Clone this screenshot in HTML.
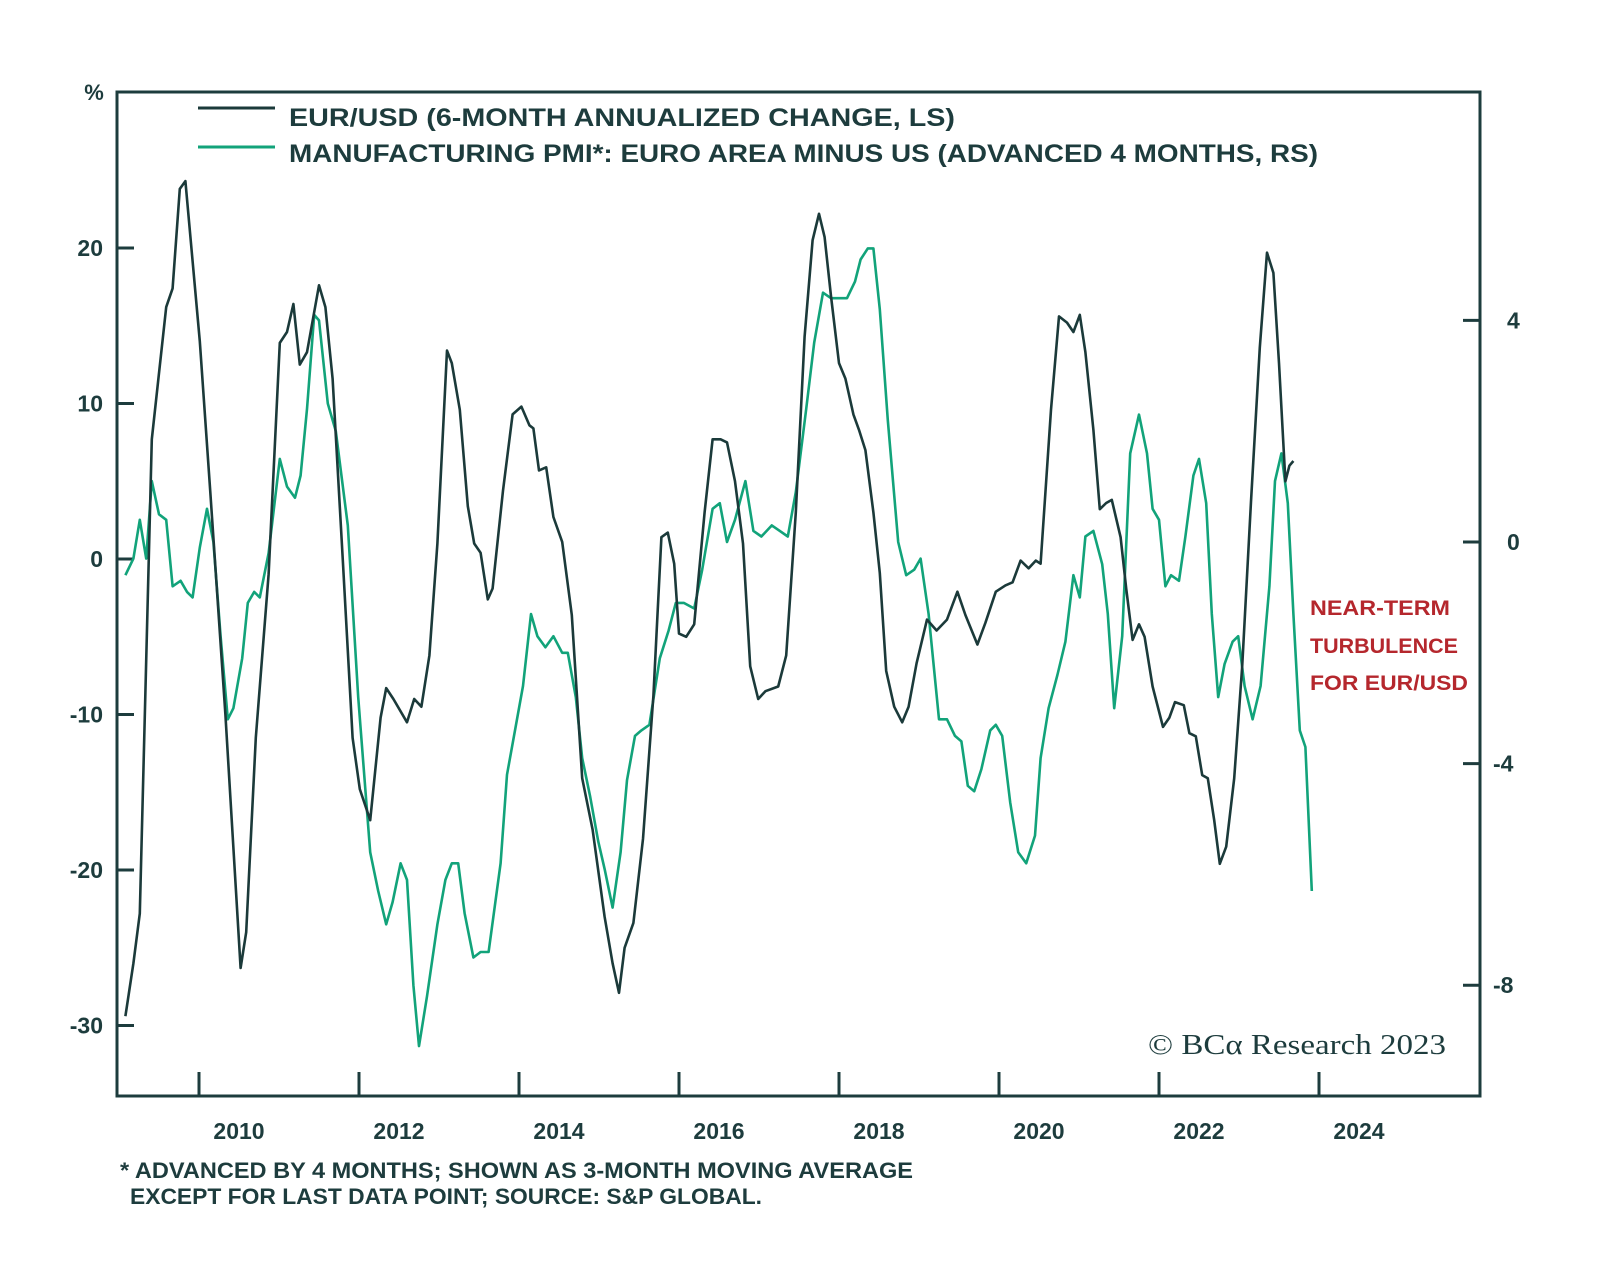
<!DOCTYPE html>
<html><head><meta charset="utf-8"><style>
html,body{margin:0;padding:0;background:#fff;}
svg{display:block;font-family:"Liberation Sans",sans-serif;}
</style></head><body>
<svg id="chart" width="1600" height="1279" viewBox="0 0 1600 1279" xmlns="http://www.w3.org/2000/svg">
<rect width="1600" height="1279" fill="#fff"/>
<g id="ticks"></g>
<g id="lines"></g>
<rect x="117" y="92" width="1363" height="1004" fill="none" stroke="#1d3c3d" stroke-width="3"/>
<text x="94" y="100" font-size="22" font-weight="bold" fill="#1d3c3d" text-anchor="middle">%</text>
<line x1="198" y1="108" x2="275" y2="108" stroke="#1b3a3a" stroke-width="3"/>
<line x1="198" y1="147" x2="275" y2="147" stroke="#12a37a" stroke-width="3"/>
<text x="289" y="126" font-size="25" font-weight="bold" fill="#1d3c3d" textLength="666" lengthAdjust="spacingAndGlyphs">EUR/USD (6-MONTH ANNUALIZED CHANGE, LS)</text>
<text x="289" y="162" font-size="25" font-weight="bold" fill="#1d3c3d" textLength="1029" lengthAdjust="spacingAndGlyphs">MANUFACTURING PMI*: EURO AREA MINUS US (ADVANCED 4 MONTHS, RS)</text>
<text font-size="21" font-weight="bold" fill="#b5272d">
<tspan x="1310" y="615" textLength="140" lengthAdjust="spacingAndGlyphs">NEAR-TERM</tspan>
<tspan x="1310" y="653" textLength="148" lengthAdjust="spacingAndGlyphs">TURBULENCE</tspan>
<tspan x="1310" y="690" textLength="158" lengthAdjust="spacingAndGlyphs">FOR EUR/USD</tspan></text>
<text x="1148" y="1054" font-family="Liberation Serif, serif" font-size="29" fill="#1d3c3d" textLength="298" lengthAdjust="spacingAndGlyphs">© BCα Research 2023</text>
<text font-size="22" fill="#1d3c3d" font-weight="bold">
<tspan x="120" y="1178" textLength="793" lengthAdjust="spacingAndGlyphs">* ADVANCED BY 4 MONTHS; SHOWN AS 3-MONTH MOVING AVERAGE</tspan>
<tspan x="130" y="1204" textLength="632" lengthAdjust="spacingAndGlyphs">EXCEPT FOR LAST DATA POINT; SOURCE: S&amp;P GLOBAL.</tspan></text>
</svg>
<script>
const xTicks=[2010,2012,2014,2016,2018,2020,2022,2024];
const leftTicks=[20,10,0,-10,-20,-30];
const rightTicks=[4,0,-4,-8];
const eurYears=[2009.08,2009.18,2009.26,2009.41,2009.59,2009.67,2009.76,2009.83,2010.01,2010.14,2010.33,2010.52,2010.59,2010.71,2010.87,2011.01,2011.10,2011.18,2011.26,2011.35,2011.50,2011.58,2011.67,2011.80,2011.92,2012.01,2012.14,2012.27,2012.34,2012.43,2012.60,2012.69,2012.78,2012.88,2012.98,2013.10,2013.16,2013.26,2013.36,2013.44,2013.52,2013.61,2013.67,2013.80,2013.92,2014.03,2014.13,2014.18,2014.25,2014.34,2014.43,2014.54,2014.66,2014.79,2014.92,2015.07,2015.17,2015.25,2015.32,2015.43,2015.55,2015.68,2015.78,2015.86,2015.94,2016.00,2016.09,2016.19,2016.32,2016.42,2016.52,2016.60,2016.70,2016.80,2016.89,2016.99,2017.08,2017.24,2017.34,2017.46,2017.57,2017.67,2017.75,2017.82,2017.90,2018.00,2018.08,2018.18,2018.25,2018.33,2018.43,2018.51,2018.59,2018.69,2018.79,2018.87,2018.97,2019.10,2019.22,2019.35,2019.48,2019.58,2019.73,2019.83,2019.96,2020.08,2020.17,2020.27,2020.37,2020.46,2020.52,2020.65,2020.75,2020.85,2020.93,2021.01,2021.08,2021.18,2021.26,2021.34,2021.41,2021.52,2021.59,2021.67,2021.75,2021.82,2021.92,2022.05,2022.13,2022.20,2022.31,2022.38,2022.46,2022.54,2022.61,2022.69,2022.76,2022.84,2022.94,2023.04,2023.15,2023.26,2023.35,2023.43,2023.50,2023.58,2023.63,2023.68];
const eurValues=[-29.4,-26,-22.8,7.7,16.2,17.4,23.8,24.3,14,4.4,-10,-26.3,-24,-11.5,-1,13.9,14.6,16.4,12.5,13.3,17.6,16.2,11.6,-0.3,-11.5,-14.8,-16.8,-10.2,-8.3,-9,-10.5,-9,-9.5,-6.2,1,13.4,12.6,9.6,3.4,1,0.4,-2.6,-1.9,4.4,9.3,9.8,8.6,8.4,5.7,5.9,2.7,1.1,-3.6,-14.1,-17.4,-23,-26,-27.9,-25,-23.4,-18,-8.8,1.4,1.7,-0.3,-4.8,-5,-4.2,3,7.7,7.7,7.5,5,1,-6.9,-9,-8.5,-8.2,-6.2,3,14.3,20.5,22.2,20.7,16.9,12.6,11.6,9.3,8.3,7,3,-0.9,-7.2,-9.5,-10.5,-9.5,-6.7,-3.9,-4.6,-3.9,-2.1,-3.6,-5.5,-4.1,-2.1,-1.7,-1.5,-0.1,-0.6,-0.1,-0.3,9.6,15.6,15.2,14.6,15.7,13.3,8.3,3.2,3.6,3.8,1.4,-1.9,-5.2,-4.2,-5,-8.2,-10.8,-10.2,-9.2,-9.4,-11.2,-11.4,-13.9,-14.1,-16.8,-19.6,-18.5,-14.1,-6.9,3.7,13.6,19.7,18.4,12.6,5,6,6.3];
const pmiYears=[2009.08,2009.18,2009.26,2009.34,2009.41,2009.50,2009.59,2009.67,2009.77,2009.85,2009.92,2010.01,2010.10,2010.18,2010.27,2010.36,2010.43,2010.54,2010.61,2010.69,2010.76,2010.87,2011.01,2011.10,2011.20,2011.27,2011.35,2011.44,2011.50,2011.61,2011.71,2011.86,2011.99,2012.14,2012.24,2012.34,2012.42,2012.52,2012.60,2012.68,2012.75,2012.85,2012.98,2013.08,2013.16,2013.24,2013.32,2013.43,2013.52,2013.62,2013.77,2013.85,2013.95,2014.05,2014.15,2014.23,2014.33,2014.43,2014.54,2014.61,2014.71,2014.79,2014.89,2014.99,2015.07,2015.17,2015.27,2015.35,2015.45,2015.53,2015.63,2015.76,2015.87,2015.96,2016.06,2016.19,2016.29,2016.42,2016.51,2016.60,2016.70,2016.83,2016.93,2017.03,2017.16,2017.26,2017.36,2017.46,2017.59,2017.69,2017.80,2017.90,2018.00,2018.10,2018.20,2018.27,2018.36,2018.43,2018.51,2018.61,2018.74,2018.84,2018.94,2019.02,2019.12,2019.25,2019.35,2019.45,2019.53,2019.61,2019.69,2019.78,2019.89,2019.96,2020.04,2020.14,2020.24,2020.34,2020.45,2020.52,2020.62,2020.73,2020.83,2020.93,2021.01,2021.08,2021.18,2021.29,2021.36,2021.44,2021.54,2021.64,2021.75,2021.85,2021.92,2022.00,2022.08,2022.15,2022.25,2022.33,2022.43,2022.50,2022.59,2022.66,2022.74,2022.82,2022.92,2022.99,2023.07,2023.17,2023.27,2023.38,2023.45,2023.53,2023.61,2023.68,2023.76,2023.83,2023.91];
const pmiValues=[-0.6,-0.3,0.4,-0.3,1.1,0.5,0.4,-0.8,-0.7,-0.9,-1,-0.1,0.6,0,-1.7,-3.2,-3,-2.1,-1.1,-0.9,-1,-0.2,1.5,1,0.8,1.2,2.4,4.1,4,2.5,2,0.3,-2.8,-5.6,-6.3,-6.9,-6.5,-5.8,-6.1,-8,-9.1,-8.2,-6.9,-6.1,-5.8,-5.8,-6.7,-7.5,-7.4,-7.4,-5.8,-4.2,-3.4,-2.6,-1.3,-1.7,-1.9,-1.7,-2,-2,-2.8,-3.9,-4.6,-5.4,-5.9,-6.6,-5.6,-4.3,-3.5,-3.4,-3.3,-2.1,-1.6,-1.1,-1.1,-1.2,-0.5,0.6,0.7,0,0.4,1.1,0.2,0.1,0.3,0.2,0.1,0.9,2.4,3.6,4.5,4.4,4.4,4.4,4.7,5.1,5.3,5.3,4.2,2.2,0,-0.6,-0.5,-0.3,-1.3,-3.2,-3.2,-3.5,-3.6,-4.4,-4.5,-4.1,-3.4,-3.3,-3.5,-4.7,-5.6,-5.8,-5.3,-3.9,-3,-2.4,-1.8,-0.6,-1,0.1,0.2,-0.4,-1.3,-3,-1.7,1.6,2.3,1.6,0.6,0.4,-0.8,-0.6,-0.7,0.1,1.2,1.5,0.7,-1.3,-2.8,-2.2,-1.8,-1.7,-2.6,-3.2,-2.6,-0.8,1.1,1.6,0.7,-1.3,-3.4,-3.7,-6.3];

const NS='http://www.w3.org/2000/svg';
function x(yr){return 199+(yr-2010)*80;}
function yL(v){return 559-v*15.55;}
function yR(v){return 542-v*55.4;}
const ticks=document.getElementById('ticks');
const lines=document.getElementById('lines');
function mk(tag,attrs,parent,txt){const e=document.createElementNS(NS,tag);for(const k in attrs)e.setAttribute(k,attrs[k]);if(txt!==undefined)e.textContent=txt;parent.appendChild(e);return e;}
const C='#1d3c3d';
xTicks.forEach(t=>{
  const l=mk('line',{x1:x(t),x2:x(t),y1:1096,y2:1072,stroke:C,'stroke-width':3},ticks);
  
  
  const tx=mk('text',{x:x(t)+40,y:1139,'font-size':23,'font-weight':'bold',fill:C,'text-anchor':'middle'},ticks,String(t));
  
  
});
leftTicks.forEach(t=>{
  const l=mk('line',{x1:117,x2:134,y1:yL(t),y2:yL(t),stroke:C,'stroke-width':3},ticks);
  
  
  const tx=mk('text',{x:103,y:yL(t)+8,'font-size':23,'font-weight':'bold',fill:C,'text-anchor':'end'},ticks,String(t));
  
  
});
rightTicks.forEach(t=>{
  const l=mk('line',{x1:1463,x2:1480,y1:yR(t),y2:yR(t),stroke:C,'stroke-width':3},ticks);
  
  
  const tx=mk('text',{x:t<0?1493:1507,y:yR(t)+8,'font-size':23,'font-weight':'bold',fill:C},ticks,String(t));
  
  
});
function path(xs,vs,ys){return xs.map((a,i)=>(i?'L':'M')+x(a).toFixed(1)+','+ys(vs[i]).toFixed(1)).join('');}
const pp=mk('path',{d:path(pmiYears,pmiValues,yR),fill:'none',stroke:'#12a37a','stroke-width':2.6,'stroke-linejoin':'round'},lines);


const ep=mk('path',{d:path(eurYears,eurValues,yL),fill:'none',stroke:'#1b3a3a','stroke-width':2.6,'stroke-linejoin':'round'},lines);


</script>
</body></html>
